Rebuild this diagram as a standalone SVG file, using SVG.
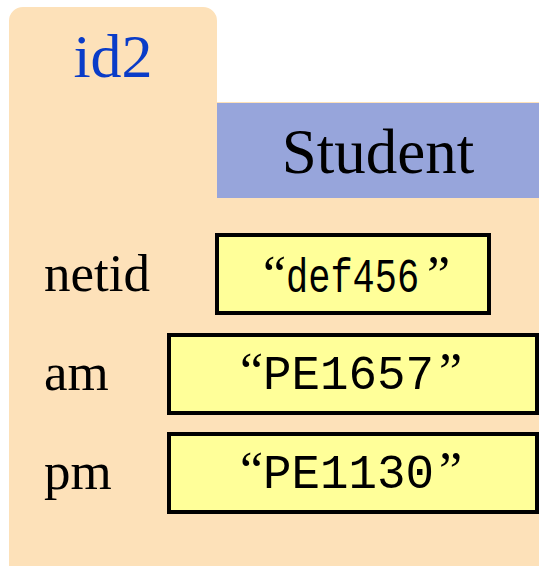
<svg xmlns="http://www.w3.org/2000/svg" width="539" height="570" viewBox="0 0 539 570">
<style>
.lbl{font-family:"Liberation Serif","Times New Roman",serif;font-size:53px;fill:#000}
.q{font-family:"Liberation Serif","Times New Roman",serif;font-size:52px;fill:#000}
.mono{font-family:"Liberation Mono","Courier New",monospace;fill:#000}
.box{fill:#FFFF99;stroke:#000;stroke-width:4}
</style>
<rect width="539" height="570" fill="#fff"/>
<g id="folder">
<path d="M9,566 V21 A14,14 0 0 1 23,7 H203 A14,14 0 0 1 217,21 V102 H539 V566 Z" fill="#FDE1B9"/>
<text x="113" y="77" text-anchor="middle" font-family="Liberation Serif,Times New Roman,serif" font-size="62" fill="#0A3CC8">id2</text>
</g>
<g id="classname">
<rect x="217" y="103" width="322" height="95" fill="#97A5DB"/>
<text x="378" y="173" text-anchor="middle" font-family="Liberation Serif,Times New Roman,serif" font-size="63" fill="#000">Student</text>
</g>
<g id="netid">
<text class="lbl" x="44" y="291">netid</text>
<rect class="box" x="217" y="235" width="272" height="78"/>
<text class="q" x="263" y="292">“</text>
<text class="mono" font-size="37" transform="translate(286,292) scale(1,1.32)">def456</text>
<text class="q" x="427" y="292">”</text>
</g>
<g id="am">
<text class="lbl" x="44" y="390">am</text>
<rect class="box" x="169" y="335" width="368" height="78"/>
<text class="q" x="240" y="389">“</text>
<text class="mono" font-size="47.5" transform="translate(263,389) scale(1,1.03)">PE1657</text>
<text class="q" x="439" y="389">”</text>
</g>
<g id="pm">
<text class="lbl" x="44" y="489">pm</text>
<rect class="box" x="169" y="434" width="368" height="78"/>
<text class="q" x="240" y="488">“</text>
<text class="mono" font-size="47.5" transform="translate(263,488) scale(1,1.03)">PE1130</text>
<text class="q" x="439" y="488">”</text>
</g>
<g id="connectors"/>
</svg>
